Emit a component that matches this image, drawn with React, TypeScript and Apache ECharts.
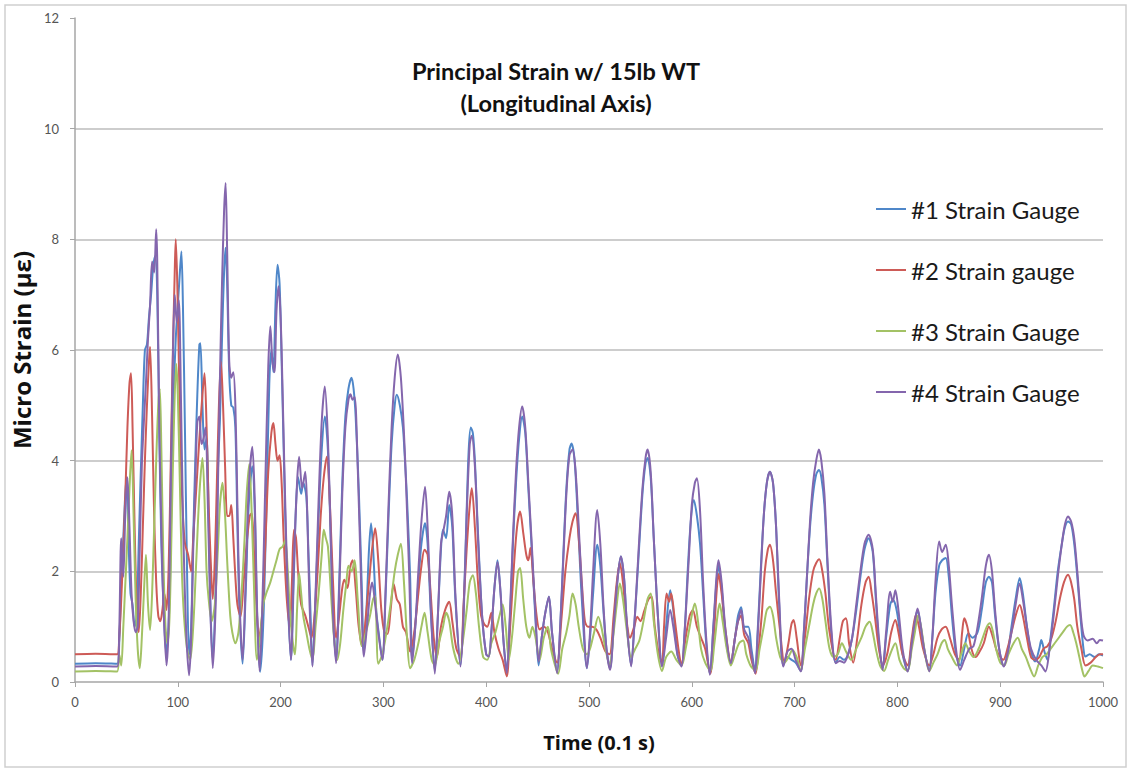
import React, { useEffect, useRef } from "react";
import * as echarts from "echarts";

const seriesNames = ["#1 Strain Gauge", "#2 Strain gauge", "#3 Strain Gauge", "#4 Strain Gauge"];
const xTicks = [0, 100, 200, 300, 400, 500, 600, 700, 800, 900, 1000];
const yTicks = [0, 2, 4, 6, 8, 10, 12];

const gauge1: number[][] = [[0,0.33],[20,0.34],[41,0.33],[43,0.7],[45,1.8],[47,2.6],[48.5,3.25],[50,3.7],[52,2.6],[54,1.6],[56,1.4],[58,1.0],[60,1.2],[62,2.5],[64,3.8],[66,5.0],[68,6.0],[70,6.1],[72,6.6],[74,7.0],[76,7.5],[78,7.7],[80,7.0],[82,4.5],[84,2.5],[87,1.0],[89,0.5],[92,1.5],[94,3.5],[96,5.2],[98,6.2],[100,6.8],[102,7.4],[103.5,7.78],[105,6.8],[107,4.5],[109,2.0],[111,0.5],[113,1.0],[115,2.6],[117,4.0],[119,5.2],[121,6.1],[122,6.12],[124,5.0],[126,4.2],[128,4.4],[130,3.0],[132,1.2],[134,0.4],[137,1.8],[139,3.8],[141,4.74],[143,6.2],[145,7.4],[146.5,7.85],[148,7.2],[150,5.6],[152,5.0],[154,4.96],[156,4.6],[158,2.8],[160,1.3],[163,0.33],[166,1.6],[169,3.2],[172.5,3.9],[175,3.0],[177,1.3],[180,0.18],[183,1.0],[186,3.0],[189,5.4],[191,6.0],[193,5.6],[195,6.8],[197,7.54],[199,7.2],[201,5.8],[203,4.2],[206,2.0],[210,0.4],[213,2.0],[215,3.2],[217,3.7],[220,3.4],[222,3.6],[225,3.35],[227,2.4],[229,1.3],[231,0.3],[234,1.5],[237,3.0],[240,4.2],[243,4.8],[246,4.2],[249,2.4],[251,1.2],[254,0.4],[257,1.8],[260,3.6],[263,4.8],[266,5.3],[269,5.5],[271,5.3],[273,4.8],[276,3.5],[279,1.7],[281,0.5],[284,1.5],[286,2.4],[288,2.87],[290,2.4],[293,1.3],[296,0.8],[299,0.4],[302,1.5],[305,3.0],[308,4.3],[311,5.0],[313,5.19],[316,5.0],[319,4.6],[321,4.0],[323,3.3],[326,1.9],[328,0.4],[331,1.0],[334,1.8],[337,2.5],[340.5,2.87],[343,2.5],[346,1.3],[350,0.2],[353,1.2],[356,2.4],[358,2.75],[361,2.6],[364,3.2],[367,2.8],[370,1.5],[375,0.3],[378,1.3],[381,3.1],[383,4.2],[385,4.6],[387,4.5],[389,4.0],[392,2.7],[396,1.2],[400,0.5],[402.5,0.46],[405,0.9],[408,1.7],[411,2.2],[414,1.6],[417,0.7],[420,0.2],[423,1.1],[426,2.5],[429,3.6],[432,4.4],[435,4.8],[438,4.5],[441,3.5],[444,2.5],[448,1.1],[451,0.3],[454,0.8],[457,1.2],[461,1.54],[464,0.9],[469,0.2],[472,1.0],[475,2.3],[478,3.5],[481,4.2],[483,4.31],[486,4.0],[489,3.0],[493,1.5],[498,0.25],[501,0.8],[504,1.6],[508,2.48],[511,2.1],[514,1.3],[517,0.6],[520.5,0.25],[524,1.0],[528,1.9],[531,2.27],[534,1.9],[537,1.0],[541,0.3],[544,1.0],[548,2.2],[552,3.4],[555,3.95],[557,4.05],[560,3.7],[563,2.6],[567,1.2],[571,0.3],[575,1.0],[579,1.66],[582,1.3],[586,0.5],[590,0.3],[593,0.9],[596,2.0],[599,2.9],[602,3.29],[605,3.0],[608,2.5],[611,1.6],[614,0.7],[617.5,0.15],[621,1.0],[624,1.8],[626,2.1],[629,1.7],[633,0.8],[638,0.35],[642,0.8],[645,1.2],[648,1.35],[651,1.0],[655,1.0],[658,0.6],[661.5,0.2],[664,0.9],[667,2.0],[670,3.0],[673,3.6],[676,3.8],[679,3.6],[682,2.8],[685,1.4],[689,0.3],[693,0.45],[697,0.4],[701,0.35],[706,0.2],[709,0.9],[712,1.9],[715,2.8],[718,3.4],[721,3.75],[723.6,3.83],[726,3.7],[729,3.2],[732,2.1],[736,0.8],[740,0.35],[744,0.45],[748,0.4],[752,0.5],[756,0.8],[760,1.3],[764,1.9],[768,2.4],[772,2.6],[776,2.35],[779,1.5],[782,0.7],[785.6,0.25],[789,0.8],[793,1.4],[795.5,1.48],[798,1.4],[801,1.1],[805,0.5],[810,0.2],[814,0.7],[817,1.1],[819.6,1.3],[822,1.1],[826,0.6],[831,0.22],[834,0.8],[837,1.6],[840.6,2.1],[843.5,2.2],[847,2.24],[850,1.9],[853,1.2],[857,0.5],[861,0.3],[865,0.6],[869,0.88],[873,0.8],[878,0.9],[882,1.3],[886,1.8],[889,1.9],[892,1.8],[895,1.2],[899,0.6],[903.6,0.3],[907,0.5],[911,1.0],[915,1.5],[919,1.88],[922,1.6],[926,1.0],[930,0.55],[934,0.37],[938,0.6],[940,0.76],[943,0.55],[946,0.4],[949,0.8],[952,1.3],[956,2.0],[960,2.5],[963,2.8],[966,2.9],[969,2.85],[972,2.5],[975,1.9],[978,1.2],[981,0.6],[983,0.46],[987,0.5],[992,0.45],[996,0.5],[1000,0.48]];

const gauge2: number[][] = [[0,0.5],[20,0.51],[41,0.5],[43,0.8],[45,1.5],[47,2.4],[49,3.4],[51,4.6],[53,5.4],[54.5,5.58],[56,4.6],[58,2.8],[60,1.4],[62,0.9],[64,1.6],[66,2.8],[68,4.0],[70,5.0],[72,5.8],[73,6.06],[75,4.8],[77,3.0],[79,1.8],[81,1.2],[83,1.1],[85,1.3],[87,1.6],[89,1.3],[91,2.0],[93,3.8],[95,5.8],[97,7.4],[98,8.0],[99.5,7.2],[101,5.8],[103,4.0],[105,3.0],[107,2.5],[110,2.3],[113,2.0],[115,2.6],[117,3.2],[119,3.8],[121,4.4],[124,5.2],[126,5.58],[128,4.6],[130,3.2],[132,2.2],[134,1.5],[136,2.2],[138,3.6],[140,5.0],[142,5.79],[144,5.0],[146,3.9],[148,3.0],[150,3.0],[152,3.2],[154,2.6],[156,1.9],[158,1.4],[161,1.18],[164,1.8],[167,2.5],[170,3.0],[172,3.05],[174,2.4],[176,1.6],[179,0.8],[182,1.2],[185,2.4],[188,3.8],[191,4.5],[193,4.68],[195,4.3],[197,4.0],[199,4.1],[201,3.6],[203,2.6],[206,1.5],[209,1.0],[211,1.8],[213,2.75],[215,2.6],[217,2.0],[220,1.4],[224,1.2],[227,1.0],[230,0.8],[233,1.2],[236,2.0],[239,3.0],[242,3.7],[245,4.07],[248,3.2],[251,1.8],[254,0.8],[257,1.2],[260,1.7],[262,1.85],[265,1.7],[268,2.1],[270,2.2],[273,1.7],[276,1.0],[279.5,0.65],[283,1.2],[286,1.8],[289,2.4],[292,2.78],[295,2.2],[298,1.3],[301,0.9],[304,0.87],[307,1.3],[310,1.77],[313,1.5],[316,1.4],[319,1.0],[322,0.9],[326,0.55],[330,0.9],[334,1.6],[337,2.1],[340,2.39],[343,2.3],[346,1.6],[349,0.8],[352,0.45],[356,1.0],[360,1.3],[364,1.45],[367,1.1],[371,0.6],[375,0.45],[378,1.4],[381,2.4],[384,3.2],[386,3.5],[389,2.8],[392,1.8],[395,1.2],[398,1.05],[401,1.0],[405,1.25],[408,0.9],[412,0.6],[416,0.4],[420,0.1],[423,0.9],[427,2.1],[430,2.8],[433,3.08],[436,2.7],[439,2.3],[441,2.2],[443,2.42],[446,1.8],[449,1.2],[452,0.95],[456,1.0],[460,0.9],[464,0.6],[469,0.35],[473,1.1],[477,2.0],[481,2.6],[484,2.9],[487,3.05],[490,2.6],[493,1.8],[496,1.1],[499,1.0],[503,1.0],[507,0.95],[511,0.8],[516,0.55],[520,0.5],[524,1.2],[527,1.8],[530,2.15],[533,1.8],[536,1.2],[540,0.8],[544,1.0],[547,1.18],[550,1.1],[554,1.3],[558,1.5],[561,1.54],[564,1.0],[568,0.5],[571,0.35],[573,1.0],[575.5,1.6],[578,1.45],[580,1.6],[583,1.2],[587,0.6],[590,0.3],[594,0.8],[598,1.2],[601,1.3],[605,1.0],[609,0.8],[613,0.6],[618,0.15],[622,1.0],[624,1.6],[626,1.95],[629,1.6],[633,0.9],[638,0.35],[642,0.8],[645,1.1],[648,1.2],[651,0.85],[655,0.7],[658,0.4],[662,0.15],[665,0.6],[668,1.2],[671,2.0],[674,2.4],[676,2.48],[679,2.2],[682,1.6],[686,0.9],[690,0.35],[694,0.7],[697,1.05],[699,1.12],[702,0.8],[706,0.3],[710,0.8],[714,1.5],[718,2.0],[721,2.15],[724,2.22],[727,2.0],[730,1.6],[734,0.9],[740,0.4],[744,0.8],[747,1.1],[750,1.15],[753,0.7],[757,0.35],[761,0.8],[765,1.4],[769,1.8],[772,1.9],[775,1.6],[778,1.2],[782,0.6],[786,0.3],[790,0.5],[794,0.9],[798,1.12],[801,0.9],[805,0.5],[810,0.3],[814,0.8],[818,1.21],[821,1.0],[825,0.6],[831,0.3],[835,0.5],[839,0.8],[843,0.95],[847,1.0],[851,0.8],[856,0.5],[860,0.4],[863,0.9],[865,1.15],[868,1.0],[872,0.6],[876,0.45],[880,0.55],[884,0.7],[889,1.0],[893,0.8],[897,0.55],[903,0.4],[907,0.6],[911,0.9],[915,1.2],[919,1.39],[922,1.2],[926,0.8],[930,0.45],[934,0.4],[938,0.45],[942,0.6],[946,0.65],[950,0.8],[954,1.1],[958,1.5],[962,1.8],[966,1.94],[969,1.8],[972,1.5],[975,1.0],[979,0.6],[983,0.3],[988,0.35],[993,0.45],[997,0.5],[1000,0.5]];

const gauge3: number[][] = [[0,0.19],[20,0.2],[41,0.19],[43,0.5],[45,0.3],[47,1.0],[49,1.8],[51,2.6],[53,3.5],[55,4.19],[57,3.0],[59,1.5],[61,0.6],[63,0.25],[65,0.8],[67,1.6],[69,2.3],[71,1.4],[73,0.94],[75,1.6],[77,2.8],[79,4.0],[81,5.0],[82.5,5.3],[84,4.2],[86,2.2],[88,1.0],[90,0.7],[92,1.2],[94,2.8],[96,4.5],[98.5,5.75],[100,5.2],[102,3.6],[104,2.0],[106,1.2],[109,0.6],[112,0.4],[115,1.0],[118,2.2],[121,3.4],[124,4.05],[126,3.3],[128,2.0],[130,1.5],[133,1.1],[136,1.4],[139,2.4],[141,3.2],[143.5,3.6],[146,3.0],[148,2.2],[151,1.2],[153,0.9],[156,0.7],[159,0.9],[162,1.6],[165,2.6],[167,3.4],[169.5,3.94],[172,3.0],[174,1.8],[177,0.4],[180,0.8],[183,1.4],[186,1.6],[190,1.8],[193,2.0],[196,2.2],[199,2.4],[202,2.45],[204.5,2.56],[207,2.0],[209,1.3],[212,0.7],[214,0.5],[216,1.3],[218,1.97],[220,1.6],[222,1.2],[225,0.9],[228,0.6],[231,0.4],[234,1.0],[237,1.6],[240,2.3],[242,2.75],[244,2.6],[246,2.45],[249,1.6],[252,0.8],[255,0.4],[258,0.7],[261,1.3],[264,1.8],[266,2.1],[269,2.0],[272,2.2],[275,1.5],[279,0.65],[283,0.9],[287,1.2],[290,1.5],[292,1.55],[295,0.33],[299,0.5],[303,0.9],[307,1.4],[311,2.0],[314,2.3],[317,2.5],[320,1.8],[323,0.8],[326,0.25],[330,0.4],[334,0.7],[337,1.0],[340,1.25],[343,0.9],[347,0.4],[350,0.3],[354,0.7],[358,1.0],[361,1.25],[364,1.1],[368,0.6],[373,0.33],[377,0.7],[381,1.3],[384,1.8],[387,1.93],[390,1.6],[393,1.0],[397,0.45],[401,0.4],[405,0.7],[409,0.9],[413,1.2],[416,1.4],[419,1.0],[422,0.4],[425,0.8],[428,1.4],[431,2.0],[433,2.06],[436,1.5],[439,1.0],[442,0.8],[445,1.0],[448,0.8],[452,0.4],[456,0.8],[460,1.0],[463,0.6],[467,0.3],[470,0.15],[474,0.6],[478,0.9],[481,1.2],[484,1.6],[487,1.4],[490,1.0],[494,0.6],[498,0.5],[501,0.6],[505,0.9],[509,1.18],[512,1.0],[516,0.6],[520,0.3],[524,0.9],[527,1.4],[530,1.78],[533,1.5],[537,0.9],[541,0.45],[545,0.6],[549,0.75],[553,1.1],[557,1.5],[560,1.6],[563,1.1],[567,0.5],[571,0.2],[575,0.45],[580,0.55],[585,0.4],[590,0.3],[594,0.6],[598,1.0],[601,1.3],[603,1.42],[606,1.1],[609,0.6],[613,0.35],[618,0.2],[622,0.7],[625,1.2],[627,1.42],[630,1.1],[634,0.6],[638,0.3],[642,0.5],[646,0.7],[650,0.75],[653,0.5],[657,0.3],[662,0.2],[666,0.6],[670,1.0],[673,1.3],[676,1.36],[679,1.2],[682,0.8],[686,0.45],[690,0.35],[694,0.45],[698,0.58],[702,0.45],[706,0.2],[710,0.6],[714,1.0],[718,1.4],[721,1.6],[724,1.69],[727,1.5],[730,1.1],[734,0.6],[738,0.45],[742,0.5],[746,0.7],[750,0.55],[755,0.4],[760,0.6],[765,0.8],[769,1.0],[773,1.09],[776,0.9],[779,0.6],[783,0.3],[787,0.2],[791,0.4],[795,0.6],[798,0.7],[802,0.4],[806,0.25],[810,0.2],[814,0.6],[817,0.9],[820,1.2],[823,1.0],[827,0.5],[831,0.2],[835,0.35],[839,0.5],[843,0.7],[846,0.76],[849,0.6],[853,0.45],[858,0.3],[862,0.5],[866,0.7],[870,0.55],[874,0.45],[879,0.6],[883,0.8],[887,1.0],[890,1.06],[893,0.9],[896,0.6],[900,0.35],[904,0.3],[908,0.5],[913,0.7],[917,0.8],[921,0.6],[925,0.45],[929,0.25],[933,0.1],[937,0.3],[941,0.45],[945,0.5],[949,0.6],[953,0.7],[957,0.8],[961,0.9],[965,1.0],[968,1.03],[971,0.9],[974,0.7],[977,0.45],[980,0.2],[982,0.1],[986,0.2],[990,0.3],[995,0.28],[1000,0.25]];

const gauge4: number[][] = [[0,0.28],[20,0.29],[41,0.28],[43,0.9],[45,2.6],[47,1.9],[49,3.1],[51,3.7],[53,2.8],[55,1.6],[57,1.1],[59,0.9],[61,1.0],[63,2.4],[65,3.9],[67,4.7],[69,5.4],[71,6.2],[73,6.8],[75,7.6],[77,7.4],[79,8.18],[80,7.6],[82,4.6],[84,2.8],[86,1.4],[89,0.3],[91,1.0],[93,3.4],[95,5.6],[97,7.0],[99,6.5],[101,6.9],[103,5.2],[105,3.0],[108,1.0],[111,0.12],[113,0.8],[115,2.4],[117,3.6],[119,4.7],[121,4.8],[123,4.3],[125,4.4],[127,4.6],[129,3.4],[131,1.8],[134,0.25],[137,1.5],[139,3.5],[141,5.5],[143,7.2],[145,8.5],[146.5,9.02],[148,7.8],[150,5.8],[152,5.5],[154,5.6],[156,5.0],[158,3.2],[160,1.5],[163,0.4],[166,1.8],[169,3.5],[172.5,4.25],[175,3.2],[177,1.4],[179.5,0.2],[182,1.2],[185,3.5],[188,5.7],[190,6.43],[192,5.8],[194,5.6],[196,6.7],[198,7.15],[200,6.6],[202,5.2],[204,3.6],[207,1.6],[210,0.4],[213,2.2],[216,3.6],[218,4.07],[221,3.5],[224,3.8],[226,3.0],[228,1.5],[231,0.28],[234,1.6],[237,3.3],[240,4.7],[243,5.34],[246,4.4],[249,2.5],[251,1.2],[254,0.34],[257,1.6],[260,3.4],[263,4.6],[266,5.1],[268,5.2],[270,5.1],[272,5.15],[275,3.9],[278,2.0],[281,0.46],[284,1.0],[287,1.6],[289,1.8],[292,1.4],[295,0.9],[299,0.4],[302,1.6],[305,3.2],[308,4.6],[311,5.5],[314,5.92],[317,5.5],[320,4.5],[322,3.6],[325,2.0],[328,0.34],[331,1.0],[334,2.0],[337,2.9],[340.5,3.53],[343,2.8],[346,1.4],[350,0.15],[353,1.2],[356,2.5],[358,2.7],[361,3.0],[364,3.44],[367,3.0],[370,1.6],[375,0.28],[378,1.2],[381,3.0],[384,4.3],[386,4.45],[389,3.9],[392,2.6],[396,1.2],[400,0.5],[402.5,0.46],[405,0.9],[408,1.7],[411,2.17],[414,1.6],[417,0.7],[420,0.16],[423,1.2],[426,2.6],[429,3.8],[432,4.6],[435,4.98],[438,4.6],[441,3.6],[444,2.6],[448,1.2],[451,0.37],[454,0.8],[457,1.2],[461,1.54],[464,0.9],[469,0.16],[472,1.0],[475,2.2],[478,3.4],[481,4.1],[484,4.2],[487,3.8],[490,2.8],[494,1.4],[498,0.25],[501,0.9],[504,2.0],[508,3.11],[511,2.5],[514,1.4],[517,0.6],[520.5,0.22],[524,1.0],[528,1.9],[531,2.27],[534,1.9],[537,1.0],[541,0.28],[544,1.0],[548,2.3],[552,3.5],[555,4.05],[557,4.2],[560,3.8],[563,2.6],[567,1.2],[571,0.28],[575,0.8],[579,1.3],[582,1.0],[586,0.5],[590,0.28],[593,0.9],[597,2.2],[600,3.2],[603,3.6],[605,3.68],[608,3.1],[611,1.8],[614,0.8],[617.5,0.13],[621,1.0],[624,1.9],[626,2.2],[629,1.8],[633,0.9],[638,0.34],[642,0.8],[645,1.1],[648,1.3],[651,0.95],[655,0.8],[658,0.5],[661.5,0.16],[664,0.8],[667,1.9],[670,3.0],[673,3.6],[676,3.8],[679,3.6],[682,2.8],[685,1.5],[689,0.28],[693,0.55],[697,0.6],[701,0.4],[706,0.19],[709,0.9],[712,1.9],[715,2.9],[718,3.6],[721,4.0],[723.6,4.2],[726,4.0],[729,3.4],[732,2.2],[736,0.9],[740,0.34],[744,0.38],[748,0.35],[752,0.5],[756,0.8],[760,1.4],[764,2.0],[768,2.5],[772,2.66],[776,2.4],[779,1.6],[782,0.8],[785.6,0.22],[789,0.9],[793,1.63],[795.5,1.45],[798,1.66],[801,1.3],[805,0.6],[810,0.19],[814,0.7],[817,1.1],[819.6,1.33],[822,1.1],[826,0.6],[831,0.19],[834,0.8],[837,1.8],[840.6,2.54],[843.5,2.35],[847,2.48],[850,2.1],[853,1.4],[857,0.6],[861,0.22],[865,0.4],[870,0.6],[874,0.65],[878,1.0],[882,1.5],[886,2.1],[889,2.3],[892,2.0],[895,1.3],[899,0.6],[903.6,0.28],[907,0.5],[911,0.9],[915,1.4],[919,1.78],[922,1.5],[926,1.0],[930,0.6],[935,0.4],[940,0.3],[944,0.19],[948,0.6],[952,1.2],[956,1.9],[960,2.5],[963,2.85],[966,2.99],[969,2.9],[972,2.6],[975,2.0],[978,1.3],[981,0.85],[985,0.75],[990,0.78],[994,0.7],[997,0.76],[1000,0.75]];

const seriesData = [gauge1, gauge2, gauge3, gauge4];
const colors = ["#4F87C9", "#CD5B57", "#A3C265", "#8466AD"];
const FONT = "Lato, 'Open Sans', sans-serif";
const NAME_FONT = "'Open Sans', Lato, sans-serif";

export default function App() {
  const ref = useRef<HTMLDivElement>(null);
  useEffect(() => {
    if (!ref.current) return;
    const chart = echarts.init(ref.current, null, { renderer: "svg" });
    chart.setOption({
      animation: false,
      backgroundColor: "#ffffff",
      color: colors,
      title: {
        text: "Principal Strain w/ 15lb WT\n(Longitudinal Axis)",
        left: 551,
        top: 50,
        textAlign: "center",
        textStyle: { fontFamily: FONT, fontSize: 23.5, fontWeight: "bold", color: "#111", lineHeight: 32 },
      },
      legend: {
        orient: "vertical",
        left: 876,
        top: 197,
        padding: 0,
        itemWidth: 30,
        itemHeight: 2,
        itemGap: 37,
        icon: "rect",
        data: seriesNames,
        textStyle: { fontFamily: FONT, fontSize: 24, color: "#1a1a1a", lineHeight: 24 },
      },
      grid: { left: 75, right: 26, top: 18, bottom: 87 },
      xAxis: {
        type: "value",
        min: 0,
        max: 1000,
        interval: 100,
        name: "Time (0.1 s)",
        nameLocation: "middle",
        nameGap: 50,
        nameTextStyle: { fontFamily: NAME_FONT, fontSize: 20, fontWeight: "bold", color: "#111", padding: [0, 0, 0, 20] },
        axisLine: { lineStyle: { color: "#a6a6a6", width: 1.5 } },
        axisTick: { show: true, length: 5, lineStyle: { color: "#a6a6a6" } },
        axisLabel: {
          margin: 13,
          fontFamily: FONT,
          fontSize: 13,
          color: "#555",
          formatter: (v: number) => (xTicks.includes(v) ? String(v) : ""),
        },
        splitLine: { show: false },
      },
      yAxis: {
        type: "value",
        min: 0,
        max: 12,
        interval: 2,
        name: "Micro Strain (με)",
        nameLocation: "middle",
        nameGap: 20,
        nameTextStyle: { fontFamily: NAME_FONT, fontSize: 24, fontWeight: "bold", color: "#111" },
        axisLine: { show: true, lineStyle: { color: "#a6a6a6", width: 1.5 } },
        axisTick: { show: true, length: 5, lineStyle: { color: "#a6a6a6" } },
        axisLabel: {
          margin: 16,
          fontFamily: FONT,
          fontSize: 13,
          color: "#555",
          formatter: (v: number) => (yTicks.includes(v) ? String(v) : ""),
        },
        splitLine: { show: true, showMinLine: false, showMaxLine: false, lineStyle: { color: "#bdbdbd", width: 1.5 } },
      },
      graphic: [
        {
          type: "rect",
          shape: { x: 5, y: 5, width: 1121, height: 762 },
          style: { fill: "none", stroke: "#cfcfcf", lineWidth: 1.5 },
          silent: true,
          z: 0,
        },
      ],
      series: seriesData.map((d, i) => ({
        name: seriesNames[i],
        type: "line",
        data: d,
        showSymbol: false,
        smooth: 0.3,
        lineStyle: { width: 2, color: colors[i] },
        itemStyle: { color: colors[i] },
      })),
    });
    return () => chart.dispose();
  }, []);
  return (
    <div
      ref={ref}
      style={{ position: "fixed", left: 0, top: 0, width: 1129, height: 769, background: "#fff" }}
    />
  );
}
